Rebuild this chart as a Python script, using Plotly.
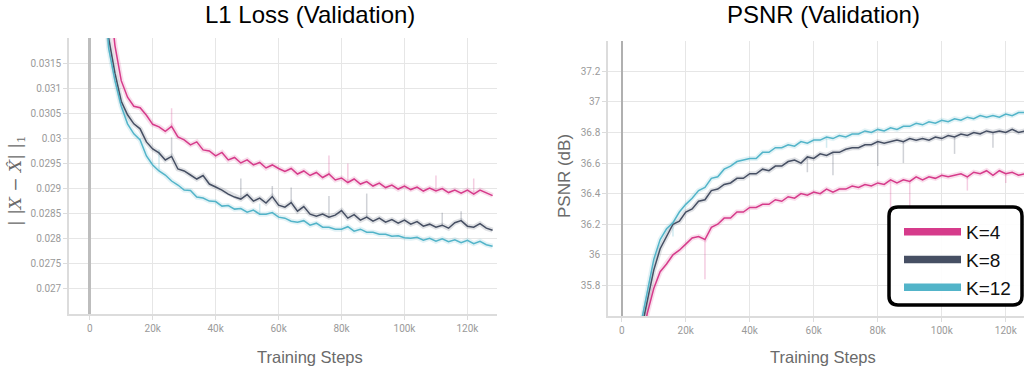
import plotly.graph_objects as go

# ---------------- data ----------------
steps_k = list(range(4, 130, 2))  # training steps in thousands

l1_k4 = [0.0345, 0.0330, 0.03185, 0.03115, 0.03082, 0.03064, 0.03061, 0.03046, 0.03028, 0.03023,
         0.03014, 0.03024, 0.03003, 0.02997, 0.02987, 0.02993, 0.02977, 0.02975, 0.02965, 0.02972,
         0.02957, 0.02962, 0.02951, 0.02957, 0.02947, 0.02952, 0.02941, 0.02947, 0.02940, 0.02934,
         0.02940, 0.02929, 0.02935, 0.02926, 0.02932, 0.02922, 0.02929, 0.02917, 0.02921, 0.02912,
         0.02919, 0.02909, 0.02914, 0.02905, 0.02911, 0.02902, 0.02907, 0.02899, 0.02905, 0.02898,
         0.02903, 0.02895, 0.02901, 0.02895, 0.02900, 0.02892, 0.02897, 0.02891, 0.02897, 0.02889,
         0.02897, 0.02892, 0.02886]
l1_k8 = [0.0335, 0.0320, 0.03130, 0.03074, 0.03047, 0.03029, 0.03019, 0.02993, 0.02979, 0.02971,
         0.02957, 0.02964, 0.02939, 0.02935, 0.02927, 0.02919, 0.02926, 0.02909, 0.02903, 0.02897,
         0.02889, 0.02883, 0.02879, 0.02888, 0.02875, 0.02881, 0.02871, 0.02884, 0.02867, 0.02863,
         0.02872, 0.02855, 0.02864, 0.02849, 0.02845, 0.02849, 0.02843, 0.02847, 0.02856, 0.02841,
         0.02848, 0.02837, 0.02843, 0.02835, 0.02841, 0.02833, 0.02838, 0.02831, 0.02837, 0.02829,
         0.02834, 0.02825, 0.02829, 0.02823, 0.02827, 0.02821, 0.02832, 0.02836, 0.02825, 0.02823,
         0.02830, 0.02821, 0.02817]
l1_k12 = [0.0335, 0.0318, 0.03115, 0.03064, 0.03029, 0.03009, 0.02997, 0.02965, 0.02947, 0.02935,
          0.02927, 0.02915, 0.02907, 0.02897, 0.02896, 0.02883, 0.02881, 0.02875, 0.02874, 0.02865,
          0.02866, 0.02859, 0.02860, 0.02853, 0.02857, 0.02849, 0.02849, 0.02852, 0.02843, 0.02841,
          0.02835, 0.02833, 0.02836, 0.02827, 0.02831, 0.02823, 0.02823, 0.02819, 0.02819, 0.02824,
          0.02815, 0.02819, 0.02813, 0.02813, 0.02809, 0.02809, 0.02805, 0.02806, 0.02802, 0.02801,
          0.02803, 0.02797, 0.02801, 0.02795, 0.02800, 0.02794, 0.02798, 0.02792, 0.02797, 0.02790,
          0.02795, 0.02788, 0.02785]

psnr_k4 = [35.10, 35.40, 35.62, 35.78, 35.89, 35.94, 36.00, 36.03, 36.07, 36.11,
           36.12, 36.10, 36.18, 36.20, 36.24, 36.24, 36.28, 36.28, 36.31, 36.31,
           36.33, 36.33, 36.36, 36.35, 36.38, 36.37, 36.40, 36.39, 36.41, 36.40,
           36.43, 36.41, 36.43, 36.43, 36.45, 36.44, 36.46, 36.45, 36.47, 36.46,
           36.49, 36.47, 36.49, 36.48, 36.51, 36.49, 36.51, 36.50, 36.52, 36.51,
           36.52, 36.53, 36.51, 36.54, 36.53, 36.55, 36.52, 36.55, 36.53, 36.54,
           36.52, 36.53, 36.51]
psnr_k8 = [35.25, 35.50, 35.70, 35.90, 36.04, 36.12, 36.20, 36.22, 36.28, 36.30,
           36.35, 36.36, 36.42, 36.43, 36.46, 36.47, 36.50, 36.50, 36.53, 36.53,
           36.56, 36.55, 36.58, 36.58, 36.61, 36.62, 36.60, 36.64, 36.63, 36.66,
           36.65, 36.67, 36.67, 36.69, 36.70, 36.70, 36.72, 36.72, 36.74, 36.73,
           36.74, 36.75, 36.74, 36.76, 36.75, 36.76, 36.75, 36.77, 36.76, 36.78,
           36.77, 36.79, 36.78, 36.80, 36.79, 36.81, 36.80, 36.81, 36.80, 36.82,
           36.80, 36.81, 36.79]
psnr_k12 = [35.30, 35.55, 35.76, 35.97, 36.10, 36.17, 36.21, 36.28, 36.33, 36.37,
            36.42, 36.44, 36.50, 36.51, 36.56, 36.58, 36.61, 36.62, 36.63, 36.63,
            36.67, 36.67, 36.70, 36.70, 36.72, 36.71, 36.74, 36.73, 36.75, 36.75,
            36.77, 36.76, 36.78, 36.77, 36.79, 36.79, 36.81, 36.80, 36.82, 36.81,
            36.83, 36.82, 36.84, 36.84, 36.86, 36.85, 36.87, 36.86, 36.88, 36.87,
            36.89, 36.88, 36.90, 36.89, 36.91, 36.90, 36.91, 36.90, 36.92, 36.91,
            36.93, 36.93, 36.95]

# raw-value spikes (index into steps_k, raw value)
l1_spikes_k4 = [(11, 0.03060), (36, 0.02966), (39, 0.02950), (53, 0.02926), (59, 0.02920)]
l1_spikes_k8 = [(11, 0.03002), (22, 0.02920), (27, 0.02905), (30, 0.02902), (36, 0.02885),
                (42, 0.02890), (54, 0.02852), (57, 0.02855)]
l1_spikes_k12 = [(6, 0.03000), (9, 0.02978), (25, 0.02870)]
psnr_spikes_k4 = [(11, 35.84), (40, 36.24), (43, 36.30), (52, 36.42), (58, 36.47)]
psnr_spikes_k8 = [(27, 36.54), (31, 36.52), (38, 36.58), (42, 36.60), (50, 36.66), (56, 36.70)]
psnr_spikes_k12 = [(6, 36.12), (30, 36.70)]

x_tick_vals = [0, 20, 40, 60, 80, 100, 120]
x_tick_text = ["0", "20k", "40k", "60k", "80k", "100k", "120k"]
l1_tick_vals = [0.027, 0.0275, 0.028, 0.0285, 0.029, 0.0295, 0.030, 0.0305, 0.031, 0.0315]
l1_tick_text = ["0.027", "0.0275", "0.028", "0.0285", "0.029", "0.0295", "0.03", "0.0305", "0.031", "0.0315"]
l1_edge_grid = [0.0265, 0.032]
psnr_tick_vals = [35.8, 36.0, 36.2, 36.4, 36.6, 36.8, 37.0, 37.2]
psnr_tick_text = ["35.8", "36", "36.2", "36.4", "36.6", "36.8", "37", "37.2"]
psnr_edge_grid = [35.6, 37.4]

names = ["K=4", "K=8", "K=12"]
colors = ["#d63b8b", "#464f63", "#52b4c9"]

# ---------------- figure ----------------
fig = go.Figure()

def add_panel(xa, ya, series, spikes):
    for s, sp, c in zip(series, spikes, colors):
        fig.add_trace(go.Scatter(x=steps_k, y=s, mode="lines", xaxis=xa, yaxis=ya,
                                 line=dict(color=c, width=5), opacity=0.16,
                                 showlegend=False, hoverinfo="skip"))
        sx, sy = [], []
        for i, v in sp:
            sx += [steps_k[i], steps_k[i], None]
            sy += [s[i], v, None]
        fig.add_trace(go.Scatter(x=sx, y=sy, mode="lines", xaxis=xa, yaxis=ya,
                                 line=dict(color=c, width=1.5), opacity=0.25,
                                 showlegend=False, hoverinfo="skip"))
    for s, c, n in zip(series, colors, names):
        fig.add_trace(go.Scatter(x=steps_k, y=s, mode="lines", xaxis=xa, yaxis=ya,
                                 line=dict(color=c, width=1.5), name=n,
                                 showlegend=False))

add_panel("x", "y", [l1_k4, l1_k8, l1_k12],
          [l1_spikes_k4, l1_spikes_k8, l1_spikes_k12])
add_panel("x2", "y2", [psnr_k4, psnr_k8, psnr_k12],
          [psnr_spikes_k4, psnr_spikes_k8, psnr_spikes_k12])

for c, n in zip(colors, names):
    fig.add_trace(go.Scatter(x=[None], y=[None], mode="lines", xaxis="x2", yaxis="y2",
                             line=dict(color=c, width=7.5), name=n, showlegend=True))

W, H = 1024, 370
tick_font = dict(family="Roboto, 'Liberation Sans', sans-serif", size=10, color="#9a9a9a")
axis_common = dict(showgrid=True, gridcolor="#e6e6e6", gridwidth=1, showline=True,
                   linecolor="#dcdcdc", linewidth=1.5, ticks="outside", ticklen=4,
                   tickcolor="#dcdcdc", tickfont=tick_font, fixedrange=True)

fig.update_layout(
    width=W, height=H, margin=dict(l=0, r=0, t=0, b=0),
    paper_bgcolor="white", plot_bgcolor="white",
    xaxis=dict(domain=[69 / W, 497 / W], range=[-6.6, 129.4], tickvals=x_tick_vals,
               ticktext=x_tick_text, zeroline=True, zerolinecolor="#bdbdbd",
               zerolinewidth=2.5, anchor="y", **axis_common),
    yaxis=dict(domain=[1 - 314 / H, 1 - 38 / H], range=[0.0265, 0.0320],
               tickvals=l1_tick_vals, ticktext=l1_tick_text, zeroline=False,
               minor=dict(tickvals=l1_edge_grid, showgrid=True, gridcolor="#e6e6e6",
                          ticks=""),
               anchor="x", **axis_common),
    xaxis2=dict(domain=[608 / W, 1.0], range=[-4.3, 125.7], tickvals=x_tick_vals,
                ticktext=x_tick_text, zeroline=True, zerolinecolor="#b0b0b0",
                zerolinewidth=2, anchor="y2", **axis_common),
    yaxis2=dict(domain=[1 - 316 / H, 1 - 40.7 / H], range=[35.6, 37.4],
                tickvals=psnr_tick_vals, ticktext=psnr_tick_text, zeroline=False,
                minor=dict(tickvals=psnr_edge_grid, showgrid=True, gridcolor="#e6e6e6",
                           ticks=""),
                anchor="x2", **axis_common),
    legend=dict(x=899 / W, y=1 - 213 / H, xanchor="left", yanchor="top",
                bgcolor="rgba(255,255,255,0)", borderwidth=0,
                font=dict(family="'Liberation Sans', Arial, sans-serif", size=19, color="#111"),
                itemwidth=57),
    showlegend=True,
)

# rounded legend frame
x0, x1, y0, y1, r = 889 / W, 1022 / W, 1 - 305 / H, 1 - 207 / H, 9
rx, ry = r / W, r / H
path = (f"M {x0+rx},{y1} L {x1-rx},{y1} Q {x1},{y1} {x1},{y1-ry} "
        f"L {x1},{y0+ry} Q {x1},{y0} {x1-rx},{y0} L {x0+rx},{y0} "
        f"Q {x0},{y0} {x0},{y0+ry} L {x0},{y1-ry} Q {x0},{y1} {x0+rx},{y1} Z")
fig.add_shape(type="path", path=path, xref="paper", yref="paper",
              line=dict(color="black", width=3.5), fillcolor="rgba(255,255,255,0.9)",
              layer="above")

title_font = dict(family="'Liberation Sans', Arial, sans-serif", size=24, color="black")
label_font = dict(family="'Liberation Sans', Arial, sans-serif", size=16.5, color="#6a6a6a")
ann = [
    dict(text="L1 Loss (Validation)", x=310 / W, y=1.0, yanchor="top", borderpad=0,
         font=title_font),
    dict(text="PSNR (Validation)", x=823 / W, y=1.0, yanchor="top", borderpad=0,
         font=title_font),
    dict(text="Training Steps", x=310 / W, y=1 - 357 / H, yanchor="middle", font=label_font),
    dict(text="Training Steps", x=823 / W, y=1 - 357 / H, yanchor="middle", font=label_font),
    dict(text="PSNR (dB)", x=564 / W, y=1 - 176 / H, yanchor="middle", textangle=-90,
         font=dict(family="'Liberation Sans', Arial, sans-serif", size=17, color="#6a6a6a")),
    dict(text="| |<i>X</i> − <i>X\u0302</i>| |<sub>1</sub>", x=16 / W, y=1 - 181 / H,
         yanchor="middle", textangle=-90,
         font=dict(family="'DejaVu Serif', serif", size=17, color="#6a6a6a")),
]
for a in ann:
    fig.add_annotation(xref="paper", yref="paper", showarrow=False,
                       xanchor="center", **a)

fig.write_html("out.html")
